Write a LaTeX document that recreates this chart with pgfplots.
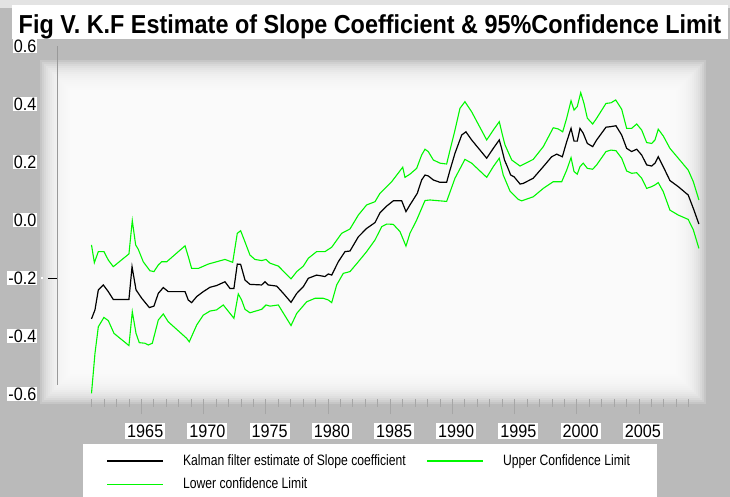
\documentclass[border=0pt]{standalone}
\usepackage{fontspec}
\setmainfont{Liberation Sans}
\newfontfamily\titlefont[FakeStretch=0.9]{Liberation Sans}
\newfontfamily\tickfont[FakeStretch=0.9]{Liberation Sans}
\newfontfamily\legfont[FakeStretch=0.81]{Liberation Sans}
\usepackage{pgfplots}
\pgfplotsset{compat=1.18}
\definecolor{limeg}{RGB}{0,248,0}

\begin{document}
\begin{tikzpicture}
\useasboundingbox (0,0) rectangle (730pt,497pt);
% shaded background of the scan
\begin{scope}[yshift=497pt, yscale=-1]
  \fill[black!27] (0pt,0pt) rectangle (730pt,497pt);
  \fill[white, opacity=0.6] (0pt,0pt) rectangle (730pt,8pt);
  \foreach \i in {0,...,15} {
    \fill[white, opacity=0.18] ({(40+2*\i)*1pt},{(60+2*\i)*1pt}) rectangle ({(706-2*\i)*1pt},{(404-2*\i)*1pt});
  }
  \fill[white] (12pt,5pt) rectangle (728pt,39pt);
  \fill[white] (83pt,444pt) rectangle (657pt,497pt);
  \node[font=\titlefont\bfseries\fontsize{26}{30}\selectfont, anchor=base, inner sep=0pt] at (370pt,33.5pt) {Fig V. K.F Estimate of Slope Coefficient \& 95\%Confidence Limit};
\end{scope}

\begin{axis}[
  at={(57pt,97.5pt)}, anchor=south west,
  width=648pt, height=353.5pt, scale only axis,
  xmin=1958.227, xmax=2010.32,
  ymin=-0.619, ymax=0.6,
  clip=false,
  axis lines*=left,
  x axis line style={draw=none},
  y axis line style={draw=gray!80, -, shorten <=14.5pt},
  tick align=outside,
  major tick length=15pt,
  minor tick length=7.5pt,
  xtick={1965,1970,...,2005},
  minor xtick={1961,...,2009},
  xtick style={draw=gray!70, thin},
  ytick={-0.6,-0.4,...,0.61},
  ytick style={draw=none},
  extra y ticks={-0.2},
  extra y tick labels={},
  extra y tick style={ytick style={draw=black, thin}, major tick length=9pt},
  xticklabel style={font=\tickfont\fontsize{18}{20}\selectfont, fill=white, inner sep=2pt, xshift=4pt, yshift=-8pt,
    /pgf/number format/set thousands separator={}, /pgf/number format/assume math mode=true},
  yticklabel style={font=\tickfont\fontsize{18}{20}\selectfont, fill=white, inner sep=1pt, xshift=-4.5pt,
    /pgf/number format/fixed, /pgf/number format/fixed zerofill, /pgf/number format/precision=1,
    /pgf/number format/assume math mode=true},
  legend style={draw=none, fill=none, inner sep=0pt, at={(axis description cs:0.0766,-0.150)}, anchor=north west,
    font=\legfont\fontsize{15}{18}\selectfont, row sep=7pt,
    /tikz/every odd column/.append style={column sep=17pt},
    /tikz/every even column/.append style={column sep=19pt}},
  legend columns=2,
  legend cell align=left,
  legend image code/.code={\draw[#1, line width=1.3pt] (0pt,0pt) -- (56pt,0pt);},
]
\addplot[black, line width=1.2pt] coordinates {
(1961.00,-0.341) (1961.28,-0.310) (1961.55,-0.241) (1961.95,-0.224) (1962.35,-0.247) (1962.75,-0.274)
(1964.01,-0.274) (1964.26,-0.161) (1964.58,-0.241) (1965.04,-0.270) (1965.65,-0.302) (1966.02,-0.297)
(1966.37,-0.253) (1966.77,-0.233) (1967.17,-0.247) (1968.52,-0.247) (1968.78,-0.276) (1969.05,-0.285)
(1969.46,-0.264) (1969.99,-0.247) (1970.53,-0.232) (1971.06,-0.226) (1971.73,-0.213) (1972.13,-0.236)
(1972.45,-0.236) (1972.72,-0.152) (1972.99,-0.153) (1973.34,-0.207) (1973.74,-0.222) (1974.68,-0.224)
(1974.95,-0.213) (1975.21,-0.224) (1975.89,-0.228) (1976.42,-0.253) (1977.04,-0.284) (1977.50,-0.253)
(1978.03,-0.230) (1978.43,-0.201) (1979.10,-0.190) (1979.77,-0.195) (1980.04,-0.186) (1980.31,-0.190)
(1980.84,-0.144) (1981.38,-0.109) (1981.78,-0.107) (1982.45,-0.058) (1983.12,-0.029) (1983.79,-0.009)
(1984.19,0.025) (1984.73,0.048) (1985.26,0.066) (1985.94,0.066) (1986.28,0.029) (1986.60,0.052)
(1987.19,0.092) (1987.54,0.138) (1987.81,0.155) (1988.07,0.152) (1988.48,0.138) (1989.01,0.130)
(1989.55,0.130) (1989.82,0.172) (1990.22,0.230) (1990.76,0.293) (1991.10,0.304) (1991.56,0.276)
(1992.77,0.213) (1993.30,0.247) (1993.78,0.276) (1993.97,0.247) (1994.20,0.207) (1994.43,0.184)
(1994.70,0.155) (1994.97,0.149) (1995.45,0.124) (1995.70,0.126) (1996.51,0.144) (1997.32,0.184)
(1997.99,0.218) (1998.40,0.227) (1998.85,0.218) (1999.20,0.270) (1999.55,0.316) (1999.79,0.272)
(2000.05,0.272) (2000.27,0.316) (2000.53,0.299) (2000.86,0.264) (2001.29,0.253) (2001.61,0.276)
(2002.36,0.320) (2002.76,0.322) (2003.16,0.325) (2003.62,0.293) (2004.02,0.247) (2004.42,0.236)
(2004.83,0.244) (2005.23,0.224) (2005.63,0.190) (2006.03,0.186) (2006.30,0.196) (2006.56,0.218)
(2006.96,0.184) (2007.50,0.136) (2008.17,0.115) (2008.97,0.086) (2009.38,0.040) (2009.83,-0.014)
};
\addlegendentry{Kalman filter estimate of Slope coefficient}
\addplot[limeg, line width=1.1pt] coordinates {
(1961.00,-0.086) (1961.23,-0.147) (1961.55,-0.109) (1962.00,-0.109) (1962.35,-0.138) (1962.75,-0.161)
(1964.01,-0.117) (1964.28,-0.002) (1964.55,-0.086) (1964.76,-0.101) (1965.16,-0.144) (1965.70,-0.175)
(1966.02,-0.178) (1966.37,-0.155) (1966.64,-0.144) (1967.05,-0.144) (1968.52,-0.089) (1968.78,-0.126)
(1969.05,-0.167) (1969.59,-0.167) (1970.39,-0.152) (1971.06,-0.144) (1971.73,-0.136) (1972.35,-0.146)
(1972.72,-0.046) (1972.99,-0.037) (1973.28,-0.069) (1973.74,-0.121) (1974.14,-0.136) (1974.68,-0.140)
(1975.03,-0.136) (1975.35,-0.149) (1976.02,-0.159) (1977.04,-0.203) (1977.50,-0.178) (1978.03,-0.159)
(1978.43,-0.132) (1979.10,-0.109) (1979.77,-0.109) (1980.31,-0.094) (1981.11,-0.046) (1981.78,-0.031)
(1982.45,0.017) (1983.12,0.052) (1983.79,0.063) (1984.19,0.092) (1985.13,0.132) (1986.02,0.182)
(1986.20,0.147) (1986.60,0.158) (1987.14,0.178) (1987.54,0.224) (1987.81,0.244) (1988.07,0.236)
(1988.48,0.207) (1989.01,0.196) (1989.55,0.193) (1989.82,0.241) (1990.22,0.310) (1990.62,0.385)
(1991.02,0.408) (1991.56,0.373) (1992.77,0.276) (1993.30,0.310) (1993.78,0.339) (1994.10,0.282)
(1994.24,0.259) (1994.78,0.207) (1995.45,0.186) (1996.51,0.209) (1997.32,0.253) (1998.12,0.318)
(1998.52,0.314) (1998.88,0.304) (1999.20,0.351) (1999.55,0.411) (1999.79,0.379) (2000.05,0.391)
(2000.33,0.439) (2000.59,0.402) (2000.86,0.351) (2001.29,0.331) (2001.61,0.351) (2002.36,0.402)
(2002.76,0.404) (2003.14,0.414) (2003.62,0.382) (2004.02,0.316) (2004.42,0.316) (2004.83,0.331)
(2005.23,0.310) (2005.63,0.267) (2006.03,0.264) (2006.30,0.276) (2006.56,0.313) (2006.96,0.290)
(2007.50,0.247) (2008.17,0.213) (2008.97,0.172) (2009.38,0.132) (2009.83,0.069)
};
\addlegendentry{Upper Confidence Limit}
\addplot[limeg, line width=1.1pt] coordinates {
(1961.00,-0.598) (1961.28,-0.460) (1961.55,-0.368) (1962.00,-0.336) (1962.35,-0.347) (1962.81,-0.391)
(1964.01,-0.433) (1964.28,-0.316) (1964.58,-0.391) (1964.84,-0.423) (1965.30,-0.425) (1965.57,-0.431)
(1965.89,-0.425) (1966.37,-0.345) (1966.77,-0.324) (1967.17,-0.351) (1968.65,-0.408) (1968.86,-0.420)
(1969.46,-0.362) (1969.99,-0.328) (1970.53,-0.314) (1971.06,-0.310) (1971.59,-0.293) (1972.13,-0.322)
(1972.45,-0.339) (1972.80,-0.255) (1973.07,-0.276) (1973.34,-0.308) (1973.74,-0.320) (1974.68,-0.308)
(1975.03,-0.293) (1975.35,-0.297) (1976.02,-0.293) (1977.04,-0.364) (1977.50,-0.322) (1977.90,-0.302)
(1978.30,-0.282) (1978.97,-0.270) (1979.63,-0.270) (1980.04,-0.276) (1980.31,-0.285) (1980.71,-0.224)
(1981.24,-0.184) (1981.78,-0.178) (1982.45,-0.144) (1983.12,-0.109) (1983.79,-0.069) (1984.33,-0.023)
(1984.73,-0.014) (1985.26,-0.015) (1985.80,-0.040) (1986.28,-0.090) (1986.60,-0.046) (1987.14,0.000)
(1987.81,0.067) (1988.21,0.069) (1989.55,0.064) (1990.22,0.144) (1991.02,0.209) (1991.56,0.196)
(1992.77,0.147) (1993.30,0.184) (1993.78,0.213) (1994.10,0.155) (1994.64,0.100) (1995.31,0.071)
(1995.58,0.066) (1996.51,0.080) (1997.32,0.109) (1998.12,0.132) (1998.80,0.132) (1999.20,0.172)
(1999.55,0.215) (1999.79,0.167) (2000.05,0.158) (2000.27,0.184) (2000.53,0.196) (2000.86,0.178)
(2001.29,0.175) (2001.61,0.190) (2002.36,0.236) (2002.76,0.241) (2003.16,0.239) (2003.62,0.213)
(2004.02,0.169) (2004.42,0.161) (2004.83,0.163) (2005.23,0.144) (2005.63,0.109) (2006.03,0.115)
(2006.30,0.121) (2006.56,0.129) (2006.96,0.098) (2007.50,0.034) (2008.17,0.017) (2008.97,0.002)
(2009.38,-0.034) (2009.83,-0.098)
};
\addlegendentry{Lower confidence Limit}
\end{axis}
\end{tikzpicture}
\end{document}
